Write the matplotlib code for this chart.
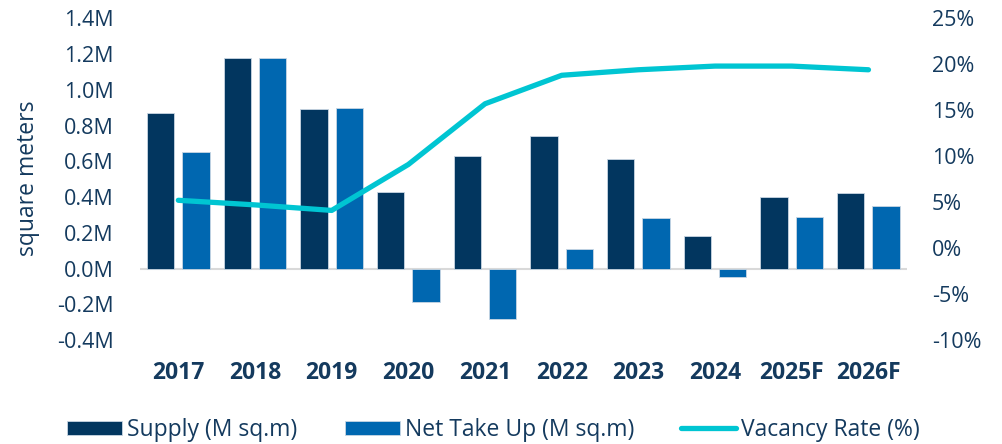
import matplotlib
matplotlib.use("Agg")
import matplotlib.pyplot as plt
import numpy as np
from matplotlib.ticker import FuncFormatter, MultipleLocator

plt.rcParams['font.family'] = ['Open Sans', 'DejaVu Sans']
plt.rcParams['axes.unicode_minus'] = False

# data
years = ['2017', '2018', '2019', '2020', '2021', '2022', '2023', '2024', '2025F', '2026F']
supply = [0.87, 1.18, 0.89, 0.43, 0.63, 0.74, 0.61, 0.18, 0.40, 0.42]
net_take_up = [0.65, 1.18, 0.90, -0.19, -0.28, 0.11, 0.28, -0.05, 0.29, 0.35]
vacancy = [5.2, 4.7, 4.1, 9.1, 15.7, 18.8, 19.4, 19.8, 19.8, 19.4]

navy = '#02365f'
blue = '#0067b0'
cyan = '#00c5d2'
text_col = '#143a5e'

fig = plt.figure(figsize=(10.02, 4.44), dpi=100)
ax = fig.add_axes([0.1397, 0.2342, 0.7653, 0.7246])
ax2 = ax.twinx()

x = np.arange(len(years))
w = 0.356
ax.bar(x - 0.23, supply, w, color=navy, edgecolor='#c9d6e3', linewidth=0.6,
       label='Supply (M sq.m)', zorder=2)
ax.bar(x + 0.23, net_take_up, w, color=blue, edgecolor='#c9d6e3', linewidth=0.6,
       label='Net Take Up (M sq.m)', zorder=2)
ax.axhline(0, color='#d9d9d9', linewidth=1.5, zorder=1)

ax2.plot(x, vacancy, color=cyan, linewidth=3.8, solid_capstyle='round',
         solid_joinstyle='round', label='Vacancy Rate (%)')

ax.set_xlim(-0.5, len(years) - 0.5)
ax.set_ylim(-0.4, 1.4)
ax.yaxis.set_major_locator(MultipleLocator(0.2))
ax.yaxis.set_major_formatter(FuncFormatter(lambda v, p: f'{v:.1f}M'))
ax2.set_ylim(-10, 25)
ax2.yaxis.set_major_locator(MultipleLocator(5))
ax2.yaxis.set_major_formatter(FuncFormatter(lambda v, p: f'{v:.0f}%'))

ax.set_xticks(x)
ax.set_xticklabels(years, fontweight='bold')

for a in (ax, ax2):
    for s in a.spines.values():
        s.set_visible(False)
ax.tick_params(axis='x', length=0, pad=15, labelsize=16.5, labelcolor=text_col)
ax.tick_params(axis='y', length=0, pad=19, labelsize=15.5, labelcolor=text_col)
ax2.tick_params(axis='y', length=0, pad=18, labelsize=15.5, labelcolor=text_col)

fig.text(0.028, 0.599, 'square meters', rotation=90, ha='center', va='center',
         fontsize=16.5, color=text_col)

h1, l1 = ax.get_legend_handles_labels()
h2, l2 = ax2.get_legend_handles_labels()
leg = fig.legend(h1 + h2, l1 + l2, loc='center', bbox_to_anchor=(0.4925, 0.0315),
                 ncol=3, frameon=False, fontsize=16.5, handlelength=2.4,
                 handleheight=0.61, handletextpad=0.22, columnspacing=2.05,
                 borderpad=0)
for t in leg.get_texts():
    t.set_color(text_col)

fig.savefig('out.png', dpi=100)
